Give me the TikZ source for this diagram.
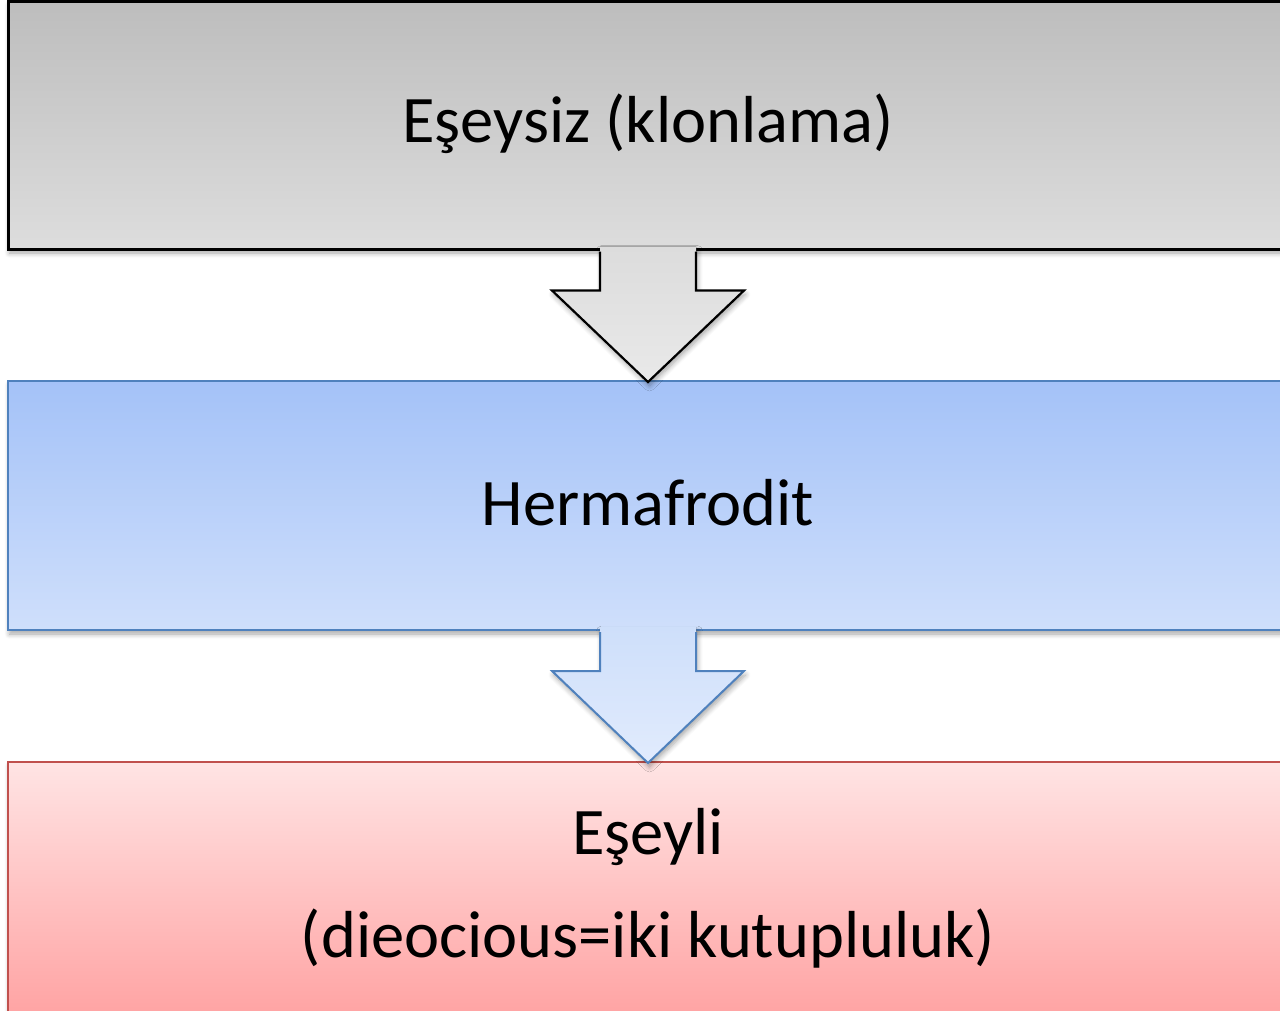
\documentclass[tikz,border=0pt]{standalone}
\usepackage{fontspec}
\setmainfont{Carlito}
\usetikzlibrary{calc,shadows.blur}
\definecolor{greyTop}{HTML}{BDBDBD}
\definecolor{greyBot}{HTML}{DDDDDD}
\definecolor{greyLine}{HTML}{000000}
\definecolor{blueTop}{HTML}{A4C2F8}
\definecolor{blueBot}{HTML}{CFDFFB}
\definecolor{blueLine}{HTML}{4F81BD}
\definecolor{redTop}{HTML}{FFE4E4}
\definecolor{redBot}{HTML}{FFA4A4}
\definecolor{redLine}{HTML}{C0504D}
\definecolor{greyArrTop}{HTML}{DCDCDC}
\definecolor{greyArrBot}{HTML}{E9E9E9}
\definecolor{blueArrTop}{HTML}{CEDFFA}
\definecolor{blueArrBot}{HTML}{E1EBFD}
\tikzset{
  softshadow/.style={blur shadow={shadow xshift=1.5pt, shadow yshift=-4pt,
      shadow blur steps=6, shadow blur radius=5pt, shadow opacity=35}},
  stage/.style={rectangle, draw, inner sep=0pt, minimum width=1280pt, softshadow},
  label/.style={anchor=base, inner sep=0pt, font=\fontsize{66.5}{78}\selectfont},
}
\begin{document}
\begin{tikzpicture}[x=1pt,y=-1pt]
  \useasboundingbox (0,0) rectangle (1280,1010);
  \clip (0,0) rectangle (1280,1010);

  % stage boxes
  \node[stage, line width=3pt, draw=greyLine, top color=greyTop, bottom color=greyBot,
        minimum height=248pt] (b1) at (648,125) {};
  \node[stage, line width=2pt, draw=blueLine, top color=blueTop, bottom color=blueBot,
        minimum height=249pt] (b2) at (648,505.5) {};
  \node[stage, line width=2pt, draw=redLine, top color=redTop, bottom color=redBot,
        minimum height=250pt] (b3) at (648,887) {};

  % block arrows between stages
  \foreach \src/\dst/\ln/\ct/\cb/\lw in {b1/b2/greyLine/greyArrTop/greyArrBot/2.2pt,
                                          b2/b3/blueLine/blueArrTop/blueArrBot/2pt}{
    \fill[top color=\ct, bottom color=\cb, softshadow]
      ($(\src.south)+(-48,-4)$) -- ($(\src.south)+(-48,40)$) -- ($(\src.south)+(-96,40)$)
      -- ($(\dst.north)+(0,2)$) -- ($(\src.south)+(96,40)$) -- ($(\src.south)+(48,40)$)
      -- ($(\src.south)+(48,-4)$) -- cycle;
    \draw[\ln, line width=\lw, line join=miter]
      ($(\src.south)+(-48,1)$) -- ($(\src.south)+(-48,40)$) -- ($(\src.south)+(-96,40)$)
      -- ($(\dst.north)+(0,2)$) -- ($(\src.south)+(96,40)$) -- ($(\src.south)+(48,40)$)
      -- ($(\src.south)+(48,1)$);
  }

  % texts
  \node[label] (t1) at (648,142) {Eşeysiz (klonlama)};
  \node[label] (t2) at (648,525) {Hermafrodit};
  \node[label] (t3) at (648,854) {Eşeyli};
  \node[label] (t4) at (648,957) {(dieocious=iki kutupluluk)};
\end{tikzpicture}
\end{document}
